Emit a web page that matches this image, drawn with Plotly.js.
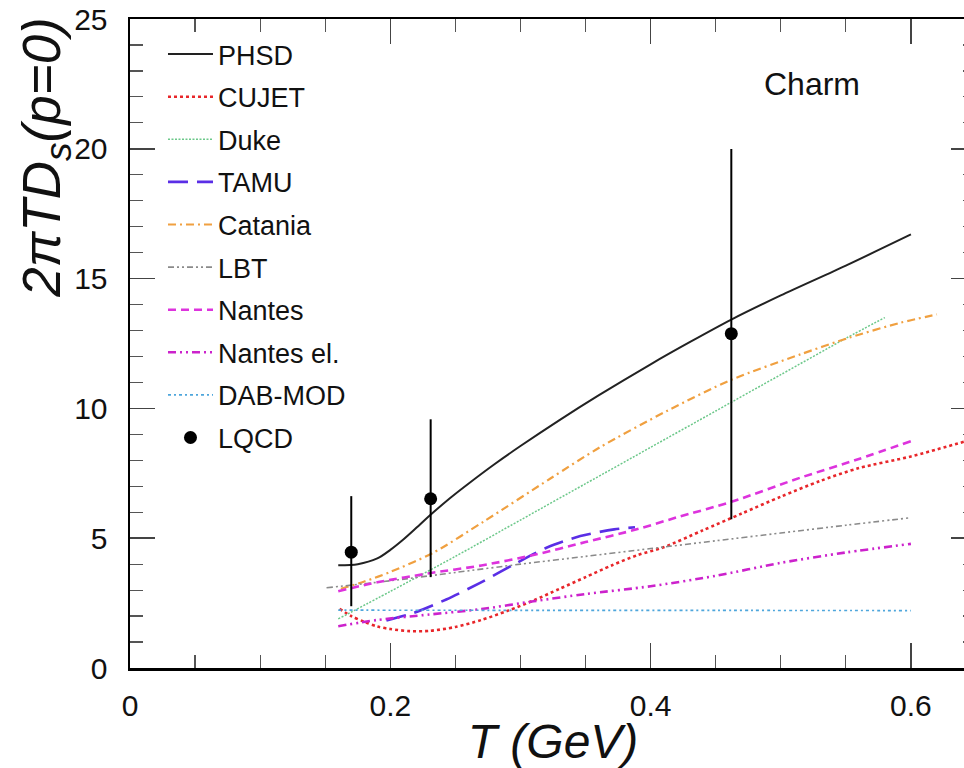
<!DOCTYPE html>
<html>
<head>
<meta charset="utf-8">
<script src="https://cdn.plot.ly/plotly-3.0.1.min.js"></script>
<style>
html,body{margin:0;padding:0;overflow:hidden;background:#fff;}
#chart{width:980px;height:768px;}
</style>
</head>
<body>
<div id="chart"></div>
<script>
// ---- data ----
const phsdT = [0.16, 0.175, 0.19, 0.2, 0.21, 0.22, 0.232, 0.246, 0.26, 0.28, 0.3, 0.33, 0.36, 0.4, 0.43, 0.462, 0.5, 0.55, 0.6];
const phsdD = [3.96, 4.0, 4.22, 4.55, 4.95, 5.4, 5.95, 6.55, 7.1, 7.85, 8.55, 9.55, 10.5, 11.7, 12.55, 13.42, 14.35, 15.5, 16.7];

const cujetT = [0.161, 0.17, 0.18, 0.19, 0.2, 0.215, 0.23, 0.25, 0.27, 0.29, 0.31, 0.33, 0.35, 0.37, 0.39, 0.41, 0.44, 0.47, 0.5, 0.53, 0.56, 0.6, 0.65];
const cujetD = [2.28, 2.0, 1.78, 1.6, 1.5, 1.42, 1.43, 1.58, 1.85, 2.2, 2.6, 3.05, 3.5, 3.95, 4.35, 4.65, 5.3, 5.95, 6.6, 7.2, 7.7, 8.15, 8.85];

const dukeT = [0.16, 0.2, 0.25, 0.3, 0.35, 0.4, 0.45, 0.5, 0.55, 0.58];
const dukeD = [1.89, 2.95, 4.3, 5.7, 7.1, 8.5, 9.9, 11.3, 12.7, 13.5];

const tamuT = [0.197, 0.218, 0.243, 0.269, 0.295, 0.32, 0.346, 0.372, 0.388];
const tamuD = [1.83, 2.12, 2.64, 3.28, 3.99, 4.63, 5.08, 5.34, 5.42];

const cataniaT = [0.162, 0.18, 0.2, 0.233, 0.272, 0.323, 0.361, 0.4125, 0.462, 0.515, 0.553, 0.592, 0.62];
const cataniaD = [3.05, 3.33, 3.7, 4.44, 5.65, 7.3, 8.5, 9.9, 11.1, 12.08, 12.73, 13.3, 13.62];

const lbtT = [0.151, 0.2, 0.25, 0.3, 0.35, 0.4, 0.45, 0.5, 0.55, 0.6];
const lbtD = [3.09, 3.36, 3.68, 4.0, 4.3, 4.6, 4.9, 5.2, 5.5, 5.79];

const nantesT = [0.16, 0.19, 0.23, 0.27, 0.31, 0.35, 0.39, 0.42, 0.462, 0.515, 0.56, 0.6];
const nantesD = [2.96, 3.3, 3.65, 3.95, 4.35, 4.85, 5.35, 5.8, 6.4, 7.33, 8.05, 8.74];

const nantesElT = [0.16, 0.19, 0.23, 0.27, 0.31, 0.35, 0.4, 0.45, 0.5, 0.55, 0.6];
const nantesElD = [1.61, 1.85, 2.06, 2.27, 2.57, 2.85, 3.15, 3.55, 4.05, 4.45, 4.78];

const dabT = [0.16, 0.3, 0.45, 0.6];
const dabD = [2.23, 2.22, 2.22, 2.21];

const lqcdT = [0.17, 0.231, 0.462];
const lqcdD = [4.46, 6.52, 12.88];
const lqcdErrUp = [2.16, 3.06, 7.11];
const lqcdErrDown = [2.08, 3.02, 7.15];

const xTicks = [0, 0.2, 0.4, 0.6];
const xTickText = ['0', '0.2', '0.4', '0.6'];
const yTicks = [0, 5, 10, 15, 20, 25];
const yTickText = ['0', '5', '10', '15', '20', '25'];

// ---- traces ----
function line(name, x, y, color, width, dash, grp) {
  return {type: 'scatter', mode: 'lines', name: name, x: x, y: y, legendgroup: grp,
          line: {color: color, width: width, dash: dash, shape: 'spline', smoothing: 0.8}, hoverinfo: 'skip'};
}
const traces = [
  line('PHSD', phsdT, phsdD, '#222222', 2, 'solid', 'g1'),
  line('CUJET', cujetT, cujetD, '#e8262a', 2.6, 'dot', 'g2'),
  line('Duke', dukeT, dukeD, '#6cc88a', 1.5, '2px,1.5px', 'g3'),
  line('TAMU', tamuT, tamuD, '#5a2ee6', 2.6, '20px,9px', 'g4'),
  line('Catania', cataniaT, cataniaD, '#f0a040', 2.2, '8px,4px,2px,4px', 'g5'),
  line('LBT', lbtT, lbtD, '#8a8a8a', 1.6, '6px,3px,2px,3px,2px,3px', 'g6'),
  line('Nantes', nantesT, nantesD, '#dd33dd', 2.6, '8px,5px', 'g7'),
  line('Nantes el.', nantesElT, nantesElD, '#cc22cc', 2.6, '8px,4px,2px,4px,2px,4px', 'g8'),
  line('DAB-MOD', dabT, dabD, '#4ea6dc', 1.6, '3px,3px,2px,3px', 'g9'),
  {type: 'scatter', mode: 'markers', name: 'LQCD', x: lqcdT, y: lqcdD, legendgroup: 'g10',
   marker: {color: '#000', size: 13},
   error_y: {type: 'data', array: lqcdErrUp, arrayminus: lqcdErrDown, color: '#000', thickness: 2, width: 0},
   hoverinfo: 'skip'}
];

const FONT = 'Liberation Sans, Arial, Helvetica, sans-serif';
const layout = {
  width: 980, height: 768,
  margin: {l: 130, r: 4, t: 19, b: 100},
  paper_bgcolor: '#fff', plot_bgcolor: '#fff',
  font: {family: FONT, color: '#111'},
  showlegend: true,
  legend: {x: 0.039, xanchor: 'left', y: 0.983, yanchor: 'top', bgcolor: 'rgba(0,0,0,0)',
           itemwidth: 45,
           font: {family: FONT, size: 27, color: '#111'}, traceorder: 'grouped', tracegroupgap: 4.5},
  xaxis: {range: [0, 0.65], tickmode: 'array', tickvals: xTicks, ticktext: xTickText,
          ticks: 'inside', ticklen: 25, tickwidth: 1.5, tickcolor: '#444',
          showline: true, linecolor: '#000', linewidth: 2.5, mirror: 'ticks',
          showgrid: false, zeroline: false, ticklabelstandoff: 9,
          tickfont: {family: FONT, size: 30, color: '#111'},
          minor: {dtick: 0.05, tick0: 0, ticks: 'inside', ticklen: 13, tickwidth: 1.2, tickcolor: '#555', showgrid: false},
          title: {text: '<i>T (GeV)</i>', font: {family: FONT, size: 48, color: '#111'}, standoff: 8}},
  yaxis: {range: [0, 25], tickmode: 'array', tickvals: yTicks, ticktext: yTickText,
          ticks: 'inside', ticklen: 25, tickwidth: 1.5, tickcolor: '#444',
          showline: true, linecolor: '#000', linewidth: 2.5, mirror: 'ticks',
          showgrid: false, zeroline: false, ticklabelstandoff: 14,
          tickfont: {family: FONT, size: 30, color: '#111'},
          minor: {dtick: 1, tick0: 0, ticks: 'inside', ticklen: 13, tickwidth: 1.2, tickcolor: '#555', showgrid: false}},
  annotations: [
    {text: 'Charm', xref: 'x', yref: 'y', x: 0.524, y: 22.5, showarrow: false,
     font: {family: FONT, size: 32, color: '#111'}, xanchor: 'center', yanchor: 'middle'},
    {text: '<i>2πTD<sub>s</sub>(p=0)</i>', xref: 'paper', yref: 'paper', x: -0.1, y: 0.787,
     textangle: -90, showarrow: false, font: {family: FONT, size: 53, color: '#111'},
     xanchor: 'center', yanchor: 'middle'}
  ]
};
Plotly.newPlot('chart', traces, layout, {displayModeBar: false, staticPlot: true});
</script>
</body>
</html>
